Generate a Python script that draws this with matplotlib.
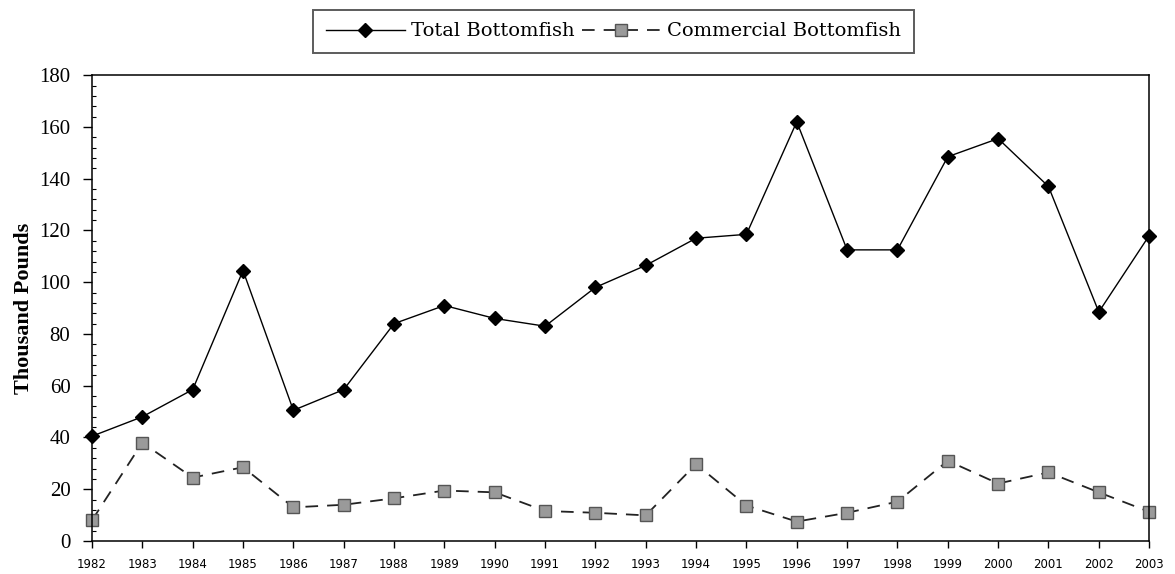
import matplotlib
matplotlib.use("Agg")
import matplotlib.pyplot as plt
from matplotlib.ticker import MultipleLocator

years = list(range(1982, 2004))
total_bottomfish = [40.5, 48, 58.5, 104.5, 50.5, 58.5, 84, 91, 86, 83, 98, 106.5,
                    117, 118.5, 162, 112.5, 112.5, 148.5, 155.5, 137, 88.5, 118]
commercial_bottomfish = [8, 38, 24.5, 28.5, 13, 14, 16.5, 19.5, 18.8, 11.6, 10.9, 9.9,
                         29.7, 13.7, 7.5, 10.9, 15.2, 31, 22.2, 26.5, 18.8, 11.3]

fig = plt.figure(figsize=(11.75, 5.74), dpi=100)
ax = fig.add_axes([0.0783, 0.0575, 0.8997, 0.8115])

ax.plot(years, total_bottomfish, color="black", lw=1.0, marker="D", ms=7.5,
        mfc="black", mec="black", clip_on=False, label="Total Bottomfish")
ax.plot(years, commercial_bottomfish, color="#222222", lw=1.3, ls=(0, (7, 5)),
        marker="s", ms=8.5, mfc="#9a9a9a", mec="#555555", clip_on=False,
        label="Commercial Bottomfish")

ax.set_xlim(1982, 2003)
ax.set_ylim(0, 180)
ax.set_xticks(years)
ax.set_xticklabels([str(y) for y in years], fontsize=8.5, family="DejaVu Sans")
ax.yaxis.set_major_locator(MultipleLocator(20))
ax.yaxis.set_minor_locator(MultipleLocator(4))
for lab in ax.get_yticklabels():
    lab.set_family("Liberation Serif")
    lab.set_fontsize(15)

ax.tick_params(axis="y", which="major", direction="out", length=6.5, width=1, pad=9)
ax.tick_params(axis="y", which="minor", direction="in", length=3, width=0.8)
ax.tick_params(axis="x", which="major", direction="out", length=5, width=1, pad=7)
for s in ax.spines.values():
    s.set_linewidth(1.1)

ax.set_ylabel("Thousand Pounds", family="Liberation Serif", fontsize=16,
              fontweight="bold", labelpad=4)

leg = fig.legend(loc="upper center", bbox_to_anchor=(0.522, 0.983), ncol=2,
                 frameon=True, fancybox=False, edgecolor="#333333",
                 prop={"family": "DejaVu Serif", "size": 14},
                 handlelength=4.1, handletextpad=0.3, columnspacing=0.35,
                 borderpad=0.65, borderaxespad=0)
leg.get_frame().set_linewidth(1.4)

fig.savefig("out.png", dpi=100)
